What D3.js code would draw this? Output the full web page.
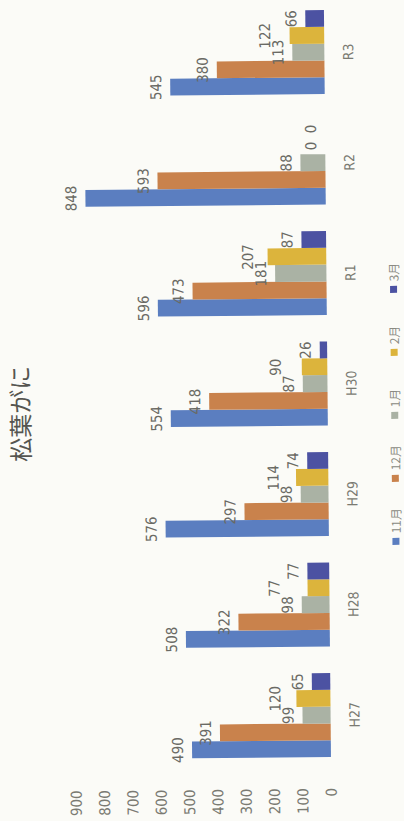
<!DOCTYPE html>
<html><head><meta charset="utf-8">
<script src="https://cdn.jsdelivr.net/npm/d3@7"></script>
<style>
html,body{margin:0;padding:0;background:#fbfbf7;}
svg{display:block;}
</style></head>
<body>
<script>
const categories = ["H27","H28","H29","H30","R1","R2","R3"];
const seriesNames = ["11月","12月","1月","2月","3月"];
const s11 = [490,508,576,554,596,848,545];
const s12 = [391,322,297,418,473,593,380];
const s1  = [99,98,98,87,181,88,113];
const s2  = [120,77,114,90,207,0,122];
const s3  = [65,77,74,26,87,0,66];
const seriesValues = [s11,s12,s1,s2,s3];
const colors = ["#5b7ec0","#c9824c","#aab2a4","#dcb43c","#4c52a2"];
const ticks = [0,100,200,300,400,500,600,700,800,900];
const title = "松葉がに";

const SW = 404, SH = 821;
const svg = d3.select("body").append("svg").attr("width",SW).attr("height",SH);
svg.append("rect").attr("width",SW).attr("height",SH).attr("fill","#fbfbf7");

// chart drawn in its original (unrotated) frame: width = SH, height = SW
const g = svg.append("g")
  .attr("transform",`rotate(-0.54,331,760) translate(0,${SH}) rotate(-90)`);

const font = "'Liberation Sans Narrow','DejaVu Sans Condensed',sans-serif";

const y = d3.scaleLinear().domain([0,900]).range([331,76]);
const x0 = d3.scaleBand().domain(categories).range([50.75,824.25]).paddingInner(0.24).paddingOuter(0.12);
const x1 = d3.scaleBand().domain(seriesNames).range([0,x0.bandwidth()]);

const data = [];
categories.forEach((c,i)=>{
  seriesNames.forEach((s,j)=>{
    data.push({cat:c, ser:s, v:seriesValues[j][i], color:colors[j]});
  });
});

// value axis labels
const yAxis = d3.axisLeft(y).tickValues(ticks).tickSize(0).tickPadding(0);
const ya = g.append("g").attr("transform","translate(33,0)").call(yAxis);
ya.select(".domain").remove();
ya.selectAll("text").attr("font-family",font).attr("font-size",15).attr("fill","#7a7a72");

// bars
g.append("g").selectAll("rect").data(data).join("rect")
  .attr("x",d=>x0(d.cat)+x1(d.ser))
  .attr("width",x1.bandwidth())
  .attr("y",d=>y(d.v))
  .attr("height",d=>y(0)-y(d.v))
  .attr("fill",d=>d.color);

// value labels with simple collision avoidance (stacking outward)
const labels = g.append("g").selectAll("text").data(data).join("text")
  .attr("x",d=>x0(d.cat)+x1(d.ser)+x1.bandwidth()/2)
  .attr("y",d=>y(d.v)-9)
  .attr("text-anchor","middle")
  .attr("font-family",font).attr("font-size",15).attr("fill","#6a6a64")
  .text(d=>d.v);
const cap = 11;
const placed = [];
labels.each(function(d){
  const w = this.getComputedTextLength();
  const cx = +this.getAttribute("x");
  let base = +this.getAttribute("y");
  let moved = true;
  while(moved){
    moved = false;
    for(const p of placed){
      const xo = Math.abs(cx - p.cx) < (w + p.w)/2;
      const yo = (base > p.top) && (base - cap < p.base);
      if(xo && yo){ base = p.top - 2; moved = true; }
    }
  }
  this.setAttribute("y", base);
  placed.push({cx, w, base, top: base - cap});
});

// category labels
const xAxis = d3.axisBottom(x0).tickSize(0).tickPadding(0);
const xa = g.append("g").attr("transform","translate(0,350)").call(xAxis);
xa.select(".domain").remove();
xa.selectAll("text").attr("font-family",font).attr("font-size",14).attr("fill","#7a7a72");

// title
g.append("text").attr("x",410).attr("y",33).attr("text-anchor","middle")
  .attr("font-family","'Noto Sans CJK JP',sans-serif").attr("font-size",24)
  .attr("fill","#555550").text(title);

// legend
const legX = d3.scalePoint().domain(seriesNames).range([279,531]);
const leg = g.append("g").selectAll("g").data(seriesNames).join("g")
  .attr("transform",d=>`translate(${legX(d)},398)`);
leg.append("rect").attr("x",-3.5).attr("y",-3.5).attr("width",7).attr("height",7)
  .attr("fill",(d,i)=>colors[i]);
leg.append("text").attr("x",8).attr("y",5)
  .attr("font-family","'Noto Sans CJK JP',sans-serif").attr("font-size",12)
  .attr("fill","#8a8a82").text(d=>d);
</script>
</body></html>
